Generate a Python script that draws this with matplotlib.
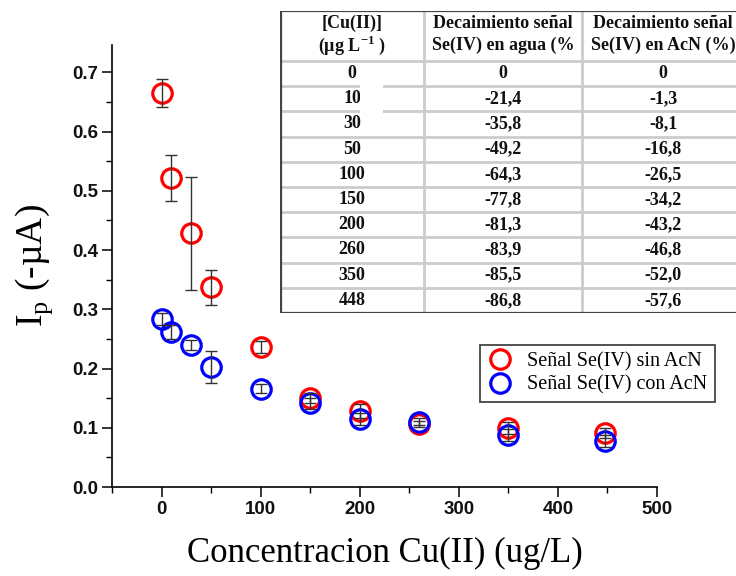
import matplotlib.pyplot as plt
from matplotlib.patches import Rectangle

plt.rcParams['mathtext.fontset'] = 'custom'
plt.rcParams['mathtext.rm'] = 'Liberation Serif'
plt.rcParams['mathtext.bf'] = 'Liberation Serif:bold'

# Peak current vs Cu(II) concentration
conc = [0, 10, 30, 50, 100, 150, 200, 260, 350, 448]
ip_sin_acn = [0.665, 0.522, 0.428, 0.337, 0.237, 0.150, 0.128, 0.107, 0.099, 0.091]
err_sin_acn = [0.024, 0.039, 0.095, 0.030, 0.010, 0.008, 0.012, 0.005, 0.010, 0.008]
ip_con_acn = [0.284, 0.262, 0.240, 0.203, 0.166, 0.141, 0.115, 0.110, 0.088, 0.078]
err_con_acn = [0.010, 0.012, 0.008, 0.027, 0.008, 0.010, 0.010, 0.006, 0.010, 0.010]

# Signal decay table
tab_conc = ['0', '10', '30', '50', '100', '150', '200', '260', '350', '448']
tab_agua = ['0', '-21,4', '-35,8', '-49,2', '-64,3', '-77,8', '-81,3', '-83,9', '-85,5', '-86,8']
tab_acn = ['0', '-1,3', '-8,1', '-16,8', '-26,5', '-34,2', '-43,2', '-46,8', '-52,0', '-57,6']
tab_head = [('[Cu(II)]', r'(µg L$^{\mathbf{-1}}$ )'),
            ('Decaimiento señal', 'Se(IV) en agua (%'),
            ('Decaimiento señal', 'Se(IV) en AcN (%)')]

W, H = 736, 576
fig = plt.figure(figsize=(W / 100, H / 100), dpi=100)
ax = fig.add_axes([112 / W, 1 - 487 / H, (657 - 112) / W, (487 - 45) / H])

ax.plot(conc, ip_sin_acn, 'o', mfc='none', mec='#ff0000', ms=14, mew=2.3,
        label='Señal Se(IV) sin AcN', zorder=2)
ax.plot(conc, ip_con_acn, 'o', mfc='none', mec='#0000ff', ms=14, mew=2.3,
        label='Señal Se(IV) con AcN', zorder=3)
ax.errorbar(conc, ip_sin_acn, yerr=err_sin_acn, fmt='none', ecolor='#333333',
            elinewidth=1, capsize=4.5, capthick=1, zorder=4)
ax.errorbar(conc, ip_con_acn, yerr=err_con_acn, fmt='none', ecolor='#333333',
            elinewidth=1, capsize=4.5, capthick=1, zorder=4)

ax.set_xlim(-50, 500)
ax.set_ylim(0, 0.746)
ax.set_xticks(range(0, 501, 100))
ax.set_xticks(range(-50, 501, 50), minor=True)
ax.set_yticks([0, 0.1, 0.2, 0.3, 0.4, 0.5, 0.6, 0.7])
ax.set_yticks([0.05, 0.15, 0.25, 0.35, 0.45, 0.55, 0.65], minor=True)
ax.yaxis.set_major_formatter(plt.FuncFormatter(lambda v, p: f'{v:.1f}'))
for s in ['top', 'right']:
    ax.spines[s].set_visible(False)
for s in ['left', 'bottom']:
    ax.spines[s].set_linewidth(1.2)
ax.tick_params(which='major', direction='out', length=7, width=1.1, pad=3)
ax.tick_params(which='minor', direction='out', length=4, width=1.0)
for lab in ax.get_xticklabels() + ax.get_yticklabels():
    lab.set_fontfamily('Liberation Sans')
    lab.set_fontweight('bold')
    lab.set_fontsize(13.5)
    lab.set_color('#111111')

ax.set_xlabel('Concentracion Cu(II) (ug/L)', family='Liberation Serif',
              fontsize=25, labelpad=14)
ax.set_ylabel(r'I$_{\rm p}$ (-µA)', family='Liberation Serif', fontsize=27, labelpad=12)

leg = ax.legend(loc='upper left', bbox_to_anchor=(480 / W, 1 - 345 / H),
                bbox_transform=fig.transFigure, borderaxespad=0,
                prop={'family': 'Liberation Serif', 'size': 14.5},
                fancybox=False, framealpha=1, edgecolor='#444444',
                handletextpad=0.7, borderpad=0.35, labelspacing=0.2, handlelength=1.3)
leg.get_frame().set_linewidth(1.3)

# Table drawn in pixel units
tab = fig.add_axes([280 / W, 1 - 313 / H, 480 / W, (313 - 11) / H])
tab.set_xlim(280, 760)
tab.set_ylim(313, 11)
tab.axis('off')
tab.add_patch(Rectangle((280, 11), 480, 302, fc='white', ec='none', zorder=0))

col_edges = [281, 424, 582, 744]
row_top, head_bot, row_h = 11, 61, 25.2
n = len(tab_conc)
grid_kw = dict(color='#cccccc', lw=2, zorder=1)
for i in range(1, n):
    y = head_bot + i * row_h
    tab.plot([281, 760], [y, y], **grid_kw)
tab.plot([281, 760], [head_bot, head_bot], **grid_kw)
for x in col_edges[1:3]:
    tab.plot([x, x], [row_top, 313], **grid_kw)
border = dict(color='#444444', lw=1.6, zorder=2, solid_capstyle='projecting')
tab.plot([281, 281], [row_top, 313], **border)
tab.plot([281, 760], [row_top, row_top], **border)
tab.plot([281, 760], [313, 313], **border)

centers = [352, 503, 663]
txt = dict(family='Liberation Serif', fontweight='bold', fontsize=13,
           ha='center', va='center', color='#111111', zorder=3)
for cx, (l1, l2) in zip(centers, tab_head):
    tab.text(cx, 23, l1, **txt)
    tab.text(cx, 45, l2, **txt)
for i, row in enumerate(zip(tab_conc, tab_agua, tab_acn)):
    yc = head_bot + (i + 0.5) * row_h
    for cx, val in zip(centers, row):
        tab.text(cx, yc, val, **txt)

# blank patch over part of the second row
tab.add_patch(Rectangle((360, 76), 23, 40, fc='white', ec='none', zorder=5))

fig.savefig('out.png', dpi=100)
